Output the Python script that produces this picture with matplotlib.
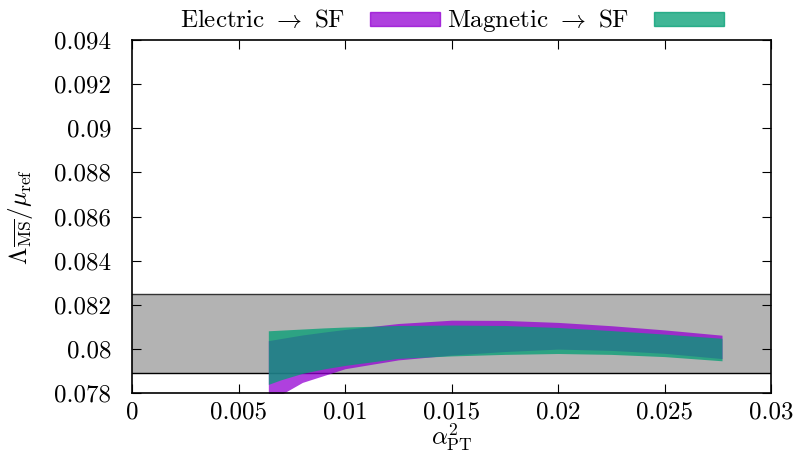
import matplotlib
matplotlib.use("Agg")
import matplotlib.pyplot as plt
from matplotlib.patches import Patch

plt.rcParams['font.family'] = 'serif'
plt.rcParams['font.serif'] = ['cmr10']
plt.rcParams['mathtext.fontset'] = 'cm'
plt.rcParams['axes.unicode_minus'] = False

# alpha_PT^2 sample positions
x = [0.0064, 0.0070, 0.0080, 0.0090, 0.0100, 0.0125, 0.0150, 0.0175, 0.0200, 0.0225, 0.0250, 0.0277]

# Electric -> SF band
elec_lo = [0.07755, 0.07793, 0.07848, 0.07879, 0.07910, 0.07950, 0.07972, 0.07988, 0.07999, 0.07993, 0.07980, 0.07956]
elec_hi = [0.08037, 0.08047, 0.08063, 0.08076, 0.08088, 0.08115, 0.08130, 0.08129, 0.08120, 0.08105, 0.08086, 0.08062]

# Magnetic -> SF band
magn_lo = [0.07839, 0.07860, 0.07889, 0.07909, 0.07925, 0.07957, 0.07968, 0.07975, 0.07979, 0.07975, 0.07965, 0.07946]
magn_hi = [0.08082, 0.08085, 0.08090, 0.08095, 0.08099, 0.08106, 0.08108, 0.08106, 0.08097, 0.08083, 0.08067, 0.08048]

# reference band
ref_lo = 0.0789
ref_hi = 0.0825

xticks = [0, 0.005, 0.01, 0.015, 0.02, 0.025, 0.03]
xticklabels = ['0', '0.005', '0.01', '0.015', '0.02', '0.025', '0.03']
yticks = [0.078, 0.080, 0.082, 0.084, 0.086, 0.088, 0.090, 0.092, 0.094]
yticklabels = ['0.078', '0.08', '0.082', '0.084', '0.086', '0.088', '0.09', '0.092', '0.094']

purple = '#9400d3'
green = '#009e73'

fig = plt.figure(figsize=(7.99, 4.53), dpi=100)
ax = fig.add_axes([132/799, 1-393/453, (771-132)/799, (393-40)/453])

ax.axhspan(ref_lo, ref_hi, color='#b3b3b3', lw=0, zorder=0)
ax.axhline(ref_lo, color='black', lw=1, zorder=1)
ax.axhline(ref_hi, color='#333333', lw=1, zorder=1)

ax.fill_between(x, elec_lo, elec_hi, color=purple, alpha=0.75, lw=0, zorder=2)
ax.fill_between(x, magn_lo, magn_hi, color=green, alpha=0.75, lw=0, zorder=3)

ax.set_xlim(0, 0.03)
ax.set_ylim(0.078, 0.094)
ax.set_xticks(xticks)
ax.set_xticklabels(xticklabels)
ax.set_yticks(yticks)
ax.set_yticklabels(yticklabels)
ax.tick_params(direction='in', length=6.5, width=0.8, top=True, right=True, labelsize=18)
ax.tick_params(axis='y', pad=15)
ax.tick_params(axis='x', pad=6)
for s in ax.spines.values():
    s.set_linewidth(1.2)
    s.set_zorder(5)

ax.set_xlabel(r'$\alpha^2_{\mathrm{PT}}$', fontsize=18, labelpad=-1)
ax.set_ylabel(r'$\Lambda_{\overline{\mathrm{MS}}}/\mu_{\mathrm{ref}}$', fontsize=18, labelpad=14)

handles = [Patch(facecolor=purple, alpha=0.75, edgecolor=purple, lw=1),
           Patch(facecolor=green, alpha=0.75, edgecolor=green, lw=1)]
fig.legend(handles, [r'Electric $\rightarrow$ SF', r'Magnetic $\rightarrow$ SF'],
           loc='center', bbox_to_anchor=(452/799, 1-21/453), ncol=2, frameon=False,
           markerfirst=False, fontsize=18, handlelength=2.8, handleheight=0.5,
           handletextpad=1.0, columnspacing=0.3, borderpad=0)

fig.savefig('out.png', dpi=100)
